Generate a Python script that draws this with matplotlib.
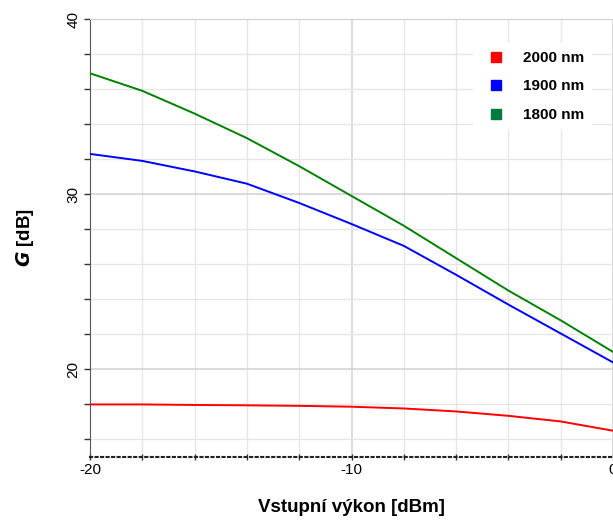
import matplotlib.pyplot as plt
from matplotlib.lines import Line2D
from matplotlib.ticker import MultipleLocator

# ===== DATA =====
power_dbm = [-20, -18, -16, -14, -12, -10, -8, -6, -4, -2, 0]
gain_2000 = [18.0, 18.0, 17.97, 17.95, 17.92, 17.87, 17.77, 17.6, 17.35, 17.03, 16.5]
gain_1900 = [32.3, 31.9, 31.3, 30.6, 29.5, 28.3, 27.05, 25.4, 23.7, 22.05, 20.4]
gain_1800 = [36.9, 35.9, 34.6, 33.2, 31.6, 29.9, 28.2, 26.35, 24.5, 22.8, 21.0]

labels = ["2000 nm", "1900 nm", "1800 nm"]
line_colors = ["#ff0000", "#0000ff", "#008000"]
legend_colors = ["#ff0000", "#0000ff", "#007a3d"]

plt.rcParams['font.family'] = ['Liberation Sans', 'DejaVu Sans']
plt.rcParams['axes.unicode_minus'] = False

fig = plt.figure(figsize=(6.13, 5.22), dpi=100)
ax = fig.add_axes([90 / 613, 1 - 457 / 522, 523 / 613, (457 - 19) / 522])

for ys, c in zip([gain_2000, gain_1900, gain_1800], line_colors):
    ax.plot(power_dbm, ys, color=c, lw=1.4, zorder=3)

ax.set_xlim(-20, 0)
ax.set_ylim(15, 40)
ax.xaxis.set_major_locator(MultipleLocator(10))
ax.xaxis.set_minor_locator(MultipleLocator(2))
ax.yaxis.set_major_locator(MultipleLocator(10))
ax.yaxis.set_minor_locator(MultipleLocator(2))

ax.grid(which='minor', color='#e6e6e6', lw=1.0, zorder=0)
ax.grid(which='major', color='#d4d4d4', lw=1.2, zorder=0)

ax.spines['right'].set_visible(False)
ax.spines['top'].set_color('#cfcfcf')
ax.spines['left'].set_color('#555555')
ax.spines['bottom'].set_color('#222222')
ax.spines['bottom'].set_linestyle(':')
ax.spines['bottom'].set_linewidth(1.5)

ax.tick_params(which='both', direction='out', length=4, width=1, color='#333333')
ax.tick_params(axis='x', which='both', direction='inout', length=5)
ax.tick_params(axis='x', labelsize=11, pad=2)
ax.tick_params(axis='y', labelsize=11, pad=3)
for t in ax.get_yticklabels():
    t.set_rotation(90)
    t.set_va('center')

ax.set_xlabel("Vstupní výkon [dBm]", fontsize=13.5, fontweight='bold', labelpad=16)
ax.set_ylabel("$\\mathbfit{G}$ [dB]", fontsize=13.5, fontweight='bold', labelpad=22)

handles = [Line2D([], [], ls='none', marker='s', markersize=6.5, color=c) for c in legend_colors]
leg = ax.legend(handles, labels, loc='upper right', bbox_to_anchor=(0.975, 0.962),
                frameon=True, fancybox=False, edgecolor='none', facecolor='white',
                framealpha=1, handletextpad=0.8, labelspacing=0.95, borderpad=0.5,
                prop={'weight': 'bold', 'size': 11})

fig.savefig("out.png", dpi=100)
